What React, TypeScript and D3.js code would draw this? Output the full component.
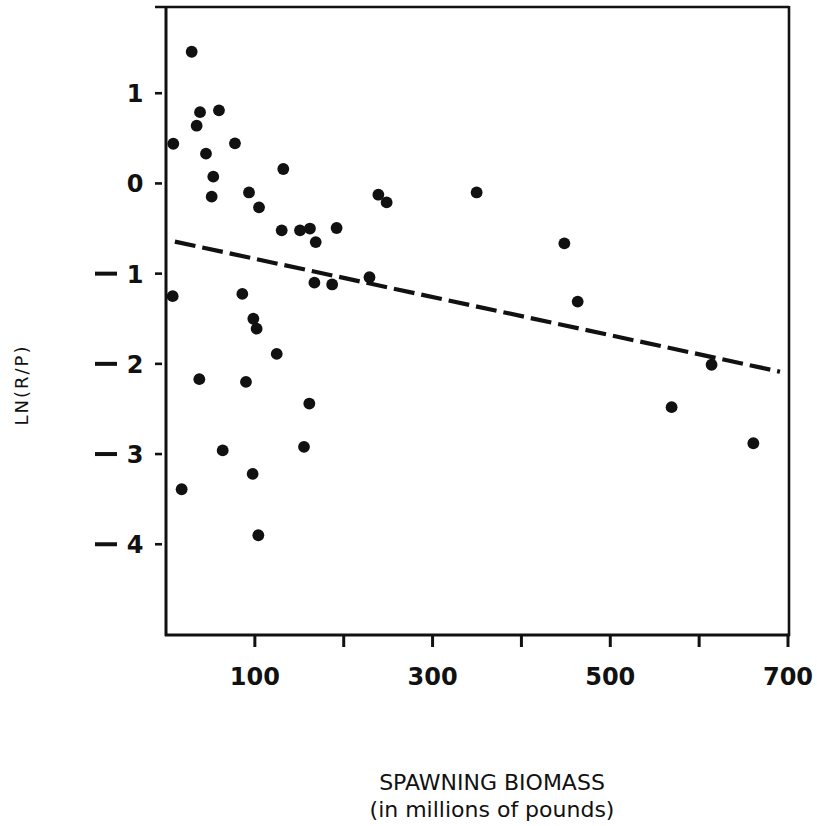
import React from "react";
import * as d3 from "d3";

const biomass = [28.9, 38.3, 59.6, 34.5, 8.2, 77.6, 45, 53.2, 132, 51.4, 93.4, 104.7, 130.2, 7.5, 85.9, 239, 248.3, 150.8, 162, 168.5, 192, 167, 187, 229, 349.6, 448.3, 463.3, 614, 569, 661, 98.3, 102, 124.6, 37.5, 90, 161.3, 155.3, 63.8, 97.5, 17.6, 103.9];
const lnRP = [1.46, 0.79, 0.81, 0.64, 0.44, 0.445, 0.33, 0.075, 0.16, -0.147, -0.1, -0.265, -0.52, -1.25, -1.225, -0.125, -0.21, -0.52, -0.5, -0.65, -0.494, -1.1, -1.12, -1.04, -0.1, -0.664, -1.31, -2.01, -2.48, -2.88, -1.5, -1.61, -1.89, -2.17, -2.2, -2.44, -2.92, -2.96, -3.22, -3.39, -3.9];
const trendX = [10, 691];
const trendY = [-0.645, -2.087];
const xTicks = [100, 200, 300, 400, 500, 600, 700];
const xTickLabels = [100, 300, 500, 700];
const yTicks = [1, 0, -1, -2, -3, -4];
const yTitle = "LN(R/P)";
const xTitle1 = "SPAWNING BIOMASS";
const xTitle2 = "(in millions of pounds)";

export default function App() {
  const W = 817, H = 826;
  const left = 166, right = 788, top = 7, bottom = 635;
  const x = d3.scaleLinear().domain([0, 700]).range([left, right]);
  const y = d3.scaleLinear().domain([-5.006, 1.956]).range([bottom, top]);
  const pts = biomass.map((b, i) => ({ b, v: lnRP[i] }));
  const line = d3.line<number>().x((_, i) => x(trendX[i])).y((d) => y(d));
  const font = "'DejaVu Sans', sans-serif";
  return (
    <svg width={W} height={H} style={{ position: "absolute", left: 0, top: 0, background: "#fff" }}>
      <rect width={W} height={H} fill="#fff" />
      {/* frame */}
      <line x1={155} x2={right + 1} y1={top} y2={top} stroke="#111" strokeWidth={2.6} />
      <line x1={left} x2={left} y1={top - 1} y2={bottom + 1} stroke="#111" strokeWidth={3} />
      <line x1={right + 1} x2={right + 1} y1={top - 1} y2={bottom + 1} stroke="#111" strokeWidth={2.6} />
      <line x1={left - 1} x2={right + 2} y1={bottom} y2={bottom} stroke="#111" strokeWidth={3} />
      {/* x ticks */}
      {xTicks.map((t) => (
        <line key={t} x1={x(t)} x2={x(t)} y1={bottom} y2={bottom + 12} stroke="#111" strokeWidth={3} />
      ))}
      {xTickLabels.map((t) => (
        <text key={t} x={x(t)} y={685} textAnchor="middle" fontFamily={font} fontWeight="bold" fontSize={24} fill="#111">
          {t}
        </text>
      ))}
      {/* y ticks */}
      {yTicks.map((t) => (
        <g key={t}>
          <line x1={155} x2={162} y1={y(t)} y2={y(t)} stroke="#111" strokeWidth={2.6} />
          <text x={135} y={y(t) + 9} textAnchor="middle" fontFamily={font} fontWeight="bold" fontSize={24} fill="#111">
            {Math.abs(t)}
          </text>
          {t < 0 && (
            <line x1={95} x2={117} y1={y(t)} y2={y(t)} stroke="#111" strokeWidth={4} />
          )}
        </g>
      ))}
      {/* trend line */}
      <path d={line(trendY) || ""} fill="none" stroke="#111" strokeWidth={4.2} strokeDasharray="21 7" />
      {/* points */}
      {pts.map((p, i) => (
        <circle key={i} cx={x(p.b)} cy={y(p.v)} r={5.9} fill="#111" />
      ))}
      {/* titles */}
      <text transform={`translate(28,385) rotate(-90)`} textAnchor="middle" fontFamily={font} fontSize={18} letterSpacing={2} fill="#111">
        {yTitle}
      </text>
      <text x={492} y={790} textAnchor="middle" fontFamily={font} fontSize={22} fill="#111">
        {xTitle1}
      </text>
      <text x={492} y={817} textAnchor="middle" fontFamily={font} fontSize={22} fill="#111">
        {xTitle2}
      </text>
    </svg>
  );
}
